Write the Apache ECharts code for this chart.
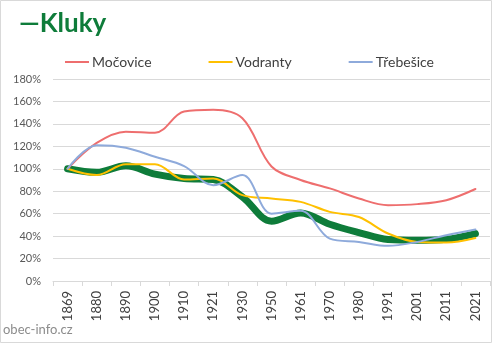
<!DOCTYPE html>
<html><head><meta charset="utf-8">
<script src="https://cdn.jsdelivr.net/npm/echarts@6/dist/echarts.min.js"></script>
<style>html,body{margin:0;padding:0;background:#fff}#c{width:492px;height:343px}</style>
</head><body><div id="c"></div>
<script>
const categories = ['1869','1880','1890','1900','1910','1921','1930','1950','1961','1970','1980','1991','2001','2011','2021'];
const mocovice = [100,123,133,132,151,152.5,145,102,90,82.5,73.5,67.6,68.5,72,82];
const vodranty = [100,94.4,104,104,90.5,91.4,76.5,73.5,70.5,61.6,57,42.3,34.8,34.3,38.4];
const trebesice = [100,121,118.8,110.7,102.4,85.4,94.4,60,62.5,37.8,34.8,31.3,34.8,40.8,45.9];
const kluky = [100,96.8,102.7,95.3,91.4,90.5,75,53.3,60.7,50.6,43.2,37,36.3,37.2,42.3];
const yTicks = [0,20,40,60,80,100,120,140,160,180];

const chart = echarts.init(document.getElementById('c'), null, {renderer:'canvas'});
const font = 'Lato, "Open Sans", sans-serif';
function ser(name, data, color, width, z){
  return {name, type:'line', data, smooth:0.35, symbol:'none', z,
    lineStyle:{color, width, cap:'round', join:'round'}, itemStyle:{color}};
}
chart.setOption({
  animation:false,
  graphic:[
    {type:'rect', shape:{x:0.5,y:0.5,width:491,height:342}, style:{fill:'none', stroke:'#d9d9d9', lineWidth:1}},
    {type:'text', left:19, top:11, style:{text:'—Kluky', fill:'#0e7c3a', font:'bold 26px '+font}},
    {type:'text', left:3, top:323, style:{text:'obec-info.cz', fill:'#8c8c8c', font:'13px '+font}}
  ],
  legend:{top:50, left:60, itemGap:57, itemWidth:24, itemHeight:2, icon:'rect',
    textStyle:{color:'#404040', fontSize:14, fontFamily:font, padding:[0,0,0,-2]},
    data:['Močovice','Vodranty','Třebešice']},
  grid:{left:53, right:2, top:79, bottom:62, containLabel:false},
  xAxis:{type:'category', data:categories, boundaryGap:true,
    axisLine:{lineStyle:{color:'#d9d9d9'}},
    axisTick:{show:true, alignWithLabel:false, length:5, lineStyle:{color:'#d9d9d9'}},
    axisLabel:{rotate:90, color:'#404040', fontSize:13, fontFamily:font, margin:10, interval:0},
    splitLine:{show:false}},
  yAxis:{type:'value', min:0, max:180, interval:20,
    axisLabel:{formatter:v=>v+'%', color:'#595959', fontSize:11, fontFamily:font, margin:12},
    axisLine:{show:false}, axisTick:{show:false},
    splitLine:{lineStyle:{color:'#d9d9d9'}}},
  series:[
    ser('Kluky', kluky, '#0e7c3a', 7, 2),
    ser('Močovice', mocovice, '#ee6e6e', 2, 3),
    ser('Vodranty', vodranty, '#ffc000', 2, 3),
    ser('Třebešice', trebesice, '#8eaadb', 2, 3)
  ]
});
</script></body></html>
